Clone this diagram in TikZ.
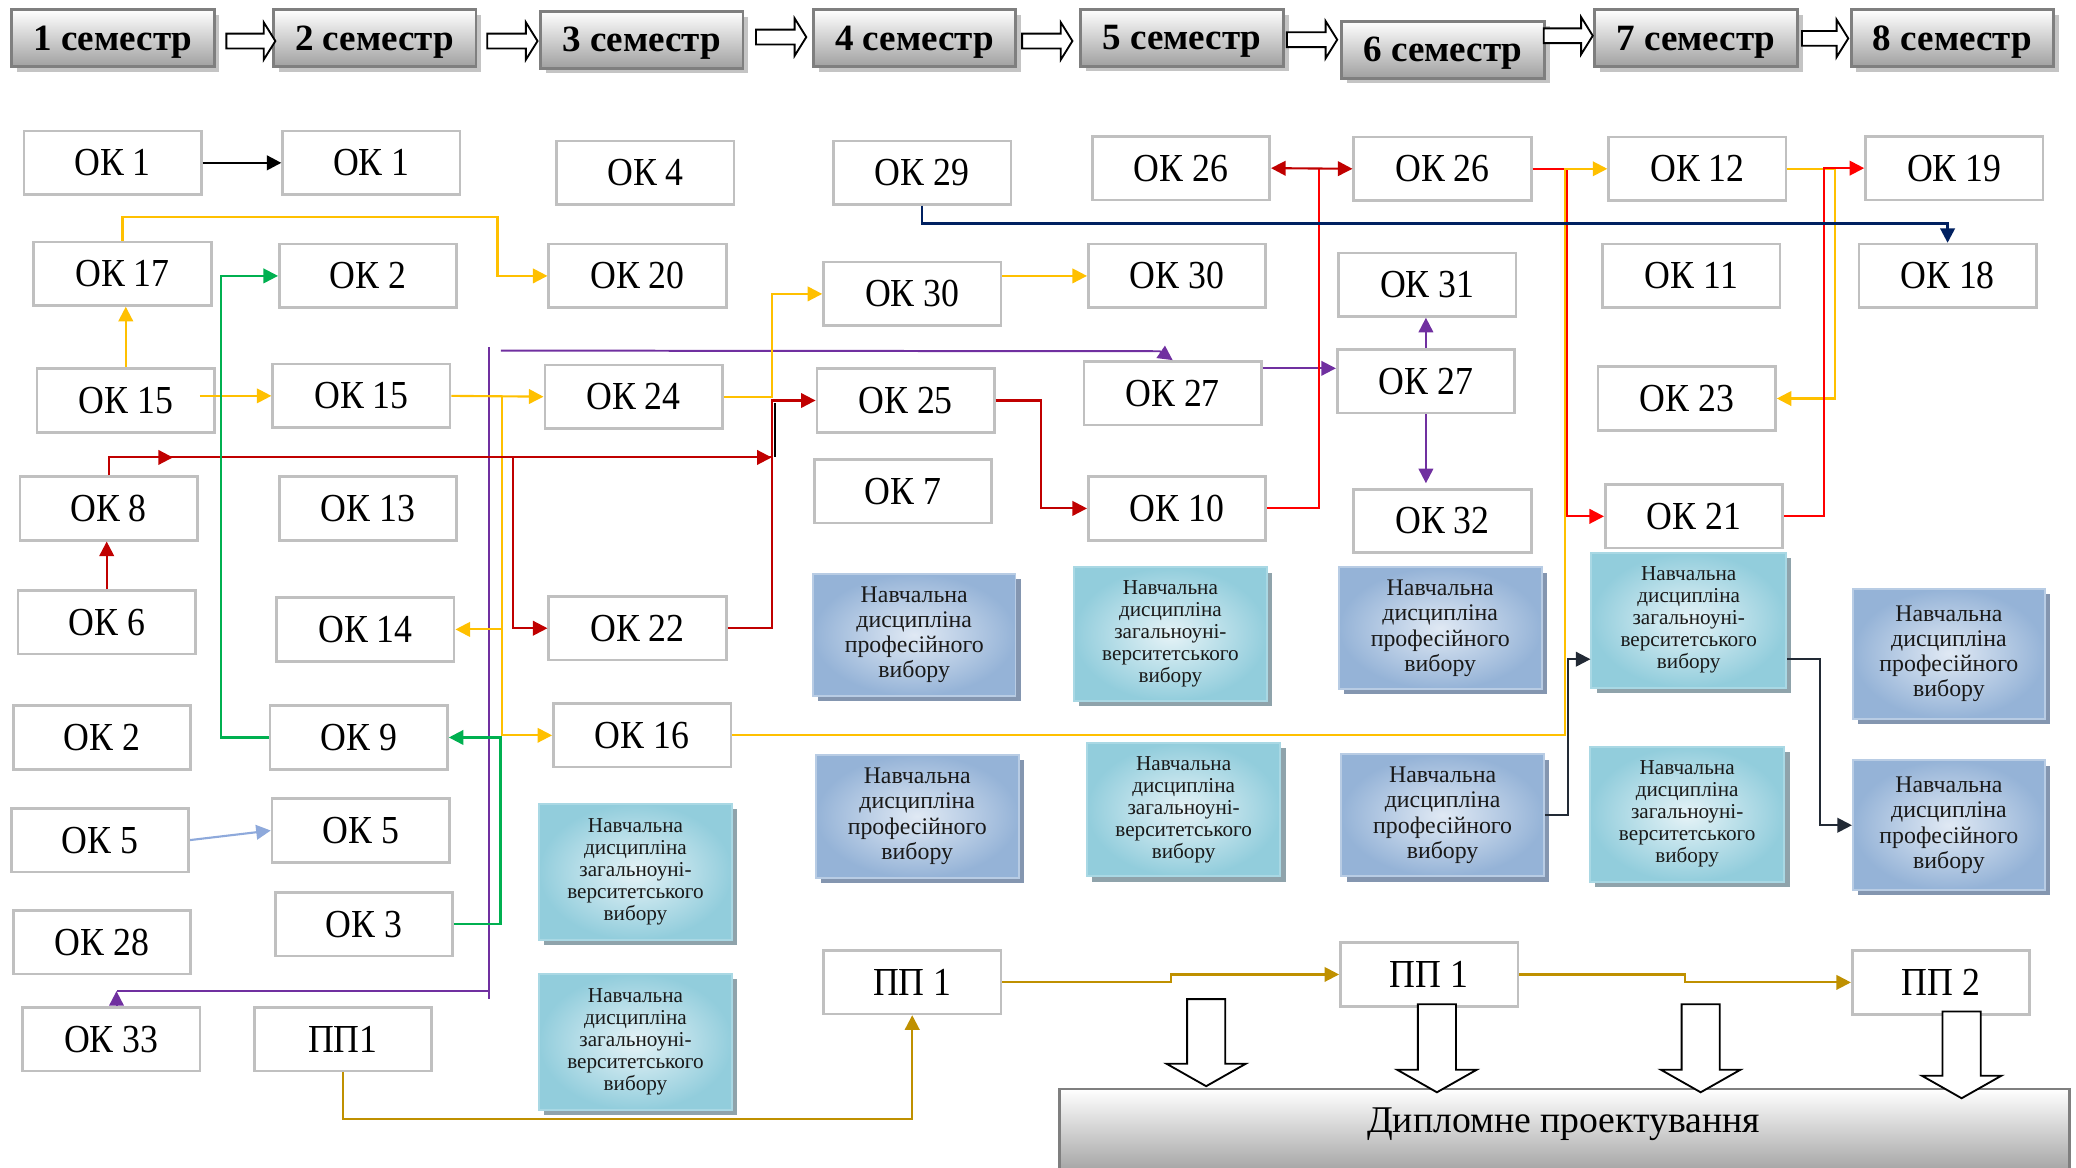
\documentclass[tikz,border=0pt]{standalone}
\usepackage{fontspec}
\setmainfont{Liberation Serif}
\newfontfamily\okfont{Liberation Serif}[FakeStretch=0.9]
\usetikzlibrary{arrows.meta,calc}
\definecolor{okgray}{HTML}{C0C0C0}
\definecolor{semborder}{HTML}{7F7F7F}
\definecolor{semgray}{HTML}{A0A0A0}
\definecolor{semboxsh}{HTML}{C4C4C4}
\definecolor{tealD}{HTML}{92CDDC}
\definecolor{tealL}{HTML}{E6F3F7}
\definecolor{tealedge}{HTML}{A9D8E4}
\definecolor{tealboxsh}{HTML}{8FA3AB}
\definecolor{blueD}{HTML}{95B3D7}
\definecolor{blueL}{HTML}{E0E9F4}
\definecolor{blueedge}{HTML}{B8CCE4}
\definecolor{blueboxsh}{HTML}{8496B0}
\definecolor{cyel}{HTML}{FFC000}
\definecolor{cdred}{HTML}{C00000}
\definecolor{cred}{HTML}{FF0000}
\definecolor{cnavy}{HTML}{002060}
\definecolor{cpur}{HTML}{7030A0}
\definecolor{cgrn}{HTML}{00B050}
\definecolor{clb}{HTML}{8EA9DB}
\definecolor{cgold}{HTML}{BF9000}
\definecolor{cdark}{HTML}{222A35}
\newcommand{\tealtxt}{Навчальна\\дисципліна\\загальноуні-\\верситетського\\вибору}
\newcommand{\bluetxt}{Навчальна\\дисципліна\\професійного\\вибору}
\newcommand{\gbox}[7]{%
  \fill[#1sh] ({#3-#5/2+4},{#4-#6/2+4}) rectangle ({#3+#5/2+4},{#4+#6/2+4});
  \node[#1, minimum width=#5pt, minimum height=#6pt] (#2) at (#3,#4) {#7};}
\newcommand{\harr}[3]{\draw[hollow] ({#1},{#3-5.6}) -- ({#2-8.8},{#3-5.6}) -- ({#2-8.8},{#3-14.1}) -- ({#2},{#3}) -- ({#2-8.8},{#3+14.1}) -- ({#2-8.8},{#3+5.6}) -- ({#1},{#3+5.6}) -- cycle;}
\newcommand{\darr}[3]{\draw[hollow] ({#1-14.4},{#2}) -- ({#1+14.4},{#2}) -- ({#1+14.4},{#3-17}) -- ({#1+30},{#3-17}) -- ({#1},{#3}) -- ({#1-30},{#3-17}) -- ({#1-14.4},{#3-17}) -- cycle;}
\tikzset{
  okbox/.style={draw=okgray, line width=2pt, fill=white, minimum width=134pt, minimum height=48pt, inner sep=0pt, font=\okfont\fontsize{30}{32}\selectfont},
  sembox/.style={draw=semborder, line width=2.2pt, top color=white, bottom color=semgray, inner sep=0pt, text depth=0pt, font=\bfseries\fontsize{28}{30}\selectfont},
  semboxsh/.style={fill=semboxsh},
  tealbox/.style={draw=tealedge, line width=1.5pt, inner color=tealL, outer color=tealD, align=center, inner sep=0pt, text=black!90, font=\fontsize{16}{16.6}\selectfont},
  tealboxsh/.style={fill=tealboxsh},
  bluebox/.style={draw=blueedge, line width=1.5pt, inner color=blueL, outer color=blueD, align=center, inner sep=0pt, text=black!90, font=\fontsize{18}{19}\selectfont},
  blueboxsh/.style={fill=blueboxsh},
  dipbox/.style={draw=semborder, line width=2pt, top color=white, bottom color=black!40},
  con/.style={line width=1.6pt, -{Triangle[length=11pt,width=11pt]}},
  ln/.style={line width=1.6pt},
  hollow/.style={draw=black, line width=1.4pt, fill=white, line join=miter},
}
\begin{document}
\begin{tikzpicture}[x=1pt,y=-1pt]
\useasboundingbox (0,0) rectangle (1568,882);

% semesters
\gbox{sembox}{s1}{85.2}{29}{153}{43}{1 семестр}
\gbox{sembox}{s2}{283}{29}{153}{43}{2 семестр}
\gbox{sembox}{s3}{484.7}{30}{153}{43}{3 семестр}
\gbox{sembox}{s4}{690.8}{29}{153}{43}{4 семестр}
\gbox{sembox}{s5}{892.8}{28.5}{153}{43}{5 семестр}
\gbox{sembox}{s6}{1089.9}{37.5}{153}{43}{6 семестр}
\gbox{sembox}{s7}{1281}{29}{153}{43}{7 семестр}
\gbox{sembox}{s8}{1474.6}{29}{153}{43}{8 семестр}
\harr{171}{208}{31}
\harr{368}{406}{31}
\harr{571}{609}{28}
\harr{772}{810}{31}
\harr{972}{1010}{30}
\harr{1166}{1203}{27}
\harr{1361}{1396}{29}

% column 1
\node[okbox] (a1) at (85,123) {ОК 1};
\node[okbox] (a17) at (92.5,206.7) {ОК 17};
\node[okbox] (a15) at (95,302.5) {ОК 15};
\node[okbox] (a8) at (82,384) {ОК 8};
\node[okbox] (a6) at (80.6,470) {ОК 6};
\node[okbox] (a2) at (77,557) {ОК 2};
\node[okbox] (a5) at (75.6,634.5) {ОК 5};
\node[okbox] (a28) at (77,711.7) {ОК 28};
\node[okbox] (a33) at (84,785) {ОК 33};
% column 2
\node[okbox] (b1) at (280.5,123) {ОК 1};
\node[okbox] (b2) at (278,208.4) {ОК 2};
\node[okbox] (b15) at (273,299) {ОК 15};
\node[okbox] (b13) at (278,384) {ОК 13};
\node[okbox] (b14) at (276,475.4) {ОК 14};
\node[okbox] (b9) at (271,557) {ОК 9};
\node[okbox] (b5) at (272.5,627.3) {ОК 5};
\node[okbox] (b3) at (275,698) {ОК 3};
\node[okbox] (bpp) at (259,785) {ПП1};
% column 3
\node[okbox] (c4) at (487.5,130.4) {ОК 4};
\node[okbox] (c20) at (481.5,208.4) {ОК 20};
\node[okbox] (c24) at (478.5,299.6) {ОК 24};
\node[okbox] (c22) at (481.5,474.5) {ОК 22};
\node[okbox] (c16) at (485,555.4) {ОК 16};
\gbox{tealbox}{cu1}{480}{658.5}{146}{103}{\tealtxt}
\gbox{tealbox}{cu2}{480}{787}{146}{103}{\tealtxt}
% column 4
\node[okbox] (d29) at (696.5,130.4) {ОК 29};
\node[okbox] (d30) at (689,222) {ОК 30};
\node[okbox] (d25) at (684,302.5) {ОК 25};
\node[okbox] (d7) at (682,371) {ОК 7};
\gbox{bluebox}{dp1}{690.5}{479.5}{153}{92}{\bluetxt}
\gbox{bluebox}{dp2}{692.8}{616.5}{153}{93}{\bluetxt}
\node[okbox] (dpp) at (689,741.8) {ПП 1};
% column 5
\node[okbox] (e26) at (892,127) {ОК 26};
\node[okbox] (e30) at (889,208.4) {ОК 30};
\node[okbox] (e27) at (885.7,297) {ОК 27};
\node[okbox] (e10) at (889,384) {ОК 10};
\gbox{tealbox}{eu1}{884}{479}{146}{101}{\tealtxt}
\gbox{tealbox}{eu2}{894}{611.5}{146}{101}{\tealtxt}
% column 6
\node[okbox] (f26) at (1089.5,127.5) {ОК 26};
\node[okbox] (f31) at (1078,215) {ОК 31};
\node[okbox] (f27) at (1077,288) {ОК 27};
\node[okbox] (f32) at (1089.5,393.5) {ОК 32};
\gbox{bluebox}{fp1}{1087.8}{474.5}{153}{92}{\bluetxt}
\gbox{bluebox}{fp2}{1089.6}{615.8}{153}{92}{\bluetxt}
\node[okbox] (fpp) at (1079.4,736) {ПП 1};
% column 7
\node[okbox] (g12) at (1282,127.5) {ОК 12};
\node[okbox] (g11) at (1277.5,208.4) {ОК 11};
\node[okbox] (g23) at (1274,301) {ОК 23};
\node[okbox] (g21) at (1279.5,390) {ОК 21};
\gbox{tealbox}{gu1}{1275.5}{468.5}{147}{102}{\tealtxt}
\gbox{tealbox}{gu2}{1274.3}{615}{147}{102}{\tealtxt}
% column 8
\node[okbox] (h19) at (1476,127) {ОК 19};
\node[okbox] (h18) at (1471,208.4) {ОК 18};
\gbox{bluebox}{hp1}{1472}{493.7}{145}{98}{\bluetxt}
\gbox{bluebox}{hp2}{1472}{623.3}{145}{98}{\bluetxt}
\node[okbox] (hpp) at (1466,742) {ПП 2};

% diploma
\node[dipbox, minimum width=763pt, minimum height=70pt] (dip) at (1181.5,857.5) {};
\node[font=\fontsize{28.5}{30}\selectfont, inner sep=0pt] (diplabel) at (1181,849) {Дипломне проектування};
\darr{911}{754.6}{820.4}
\darr{1085.3}{758.5}{825}
\darr{1284.5}{758.5}{825}
\darr{1481.6}{764}{829.5}

% connectors
\draw[con, line width=2pt, black] (a1.east) -- (b1.west);
% purple
\coordinate (ptop) at (369.7,262.3);
\coordinate (pbot) at (369.7,754.6);
\coordinate (ph) at (378.3,264.8);
\coordinate (pq) at (88,748.6);
\draw[line width=1.5pt,cpur] (ptop) -- (pbot);
\draw[con,cpur,line width=1.5pt] (ph) -- (876,265.3) -- (e27.north);
\draw[ln,cpur,line width=1.5pt] (pbot |- pq) -- (pq);
\draw[con,cpur,line width=1.5pt] (pq |- a33.north) -- (pq);
\draw[con,cpur,line width=1.5pt] ($(e27.east)+(0,-18.8)$) -- ($(e27.east -| f27.west)+(0,-18.8)$);
\draw[con,cpur,line width=1.5pt] (f27.north) -- (f27.north |- f31.south);
\draw[con,cpur,line width=1.5pt] (f27.south) -- ($(f27.south |- f32.north)+(0,-3.5)$);
% yellow
\draw[con,cyel] (a15.north) -- (a15.north |- a17.south);
\draw[con,cyel] (a17.north) |- (375.8,164.1) |- (c20.west);
\draw[con,cyel] ($(a15.east |- b15.west)+(-12,0)$) -- (b15.west);
\draw[con,cyel] (b15.east) -- (c24.west);
\coordinate (yv) at (379.3,299);
\draw[con,cyel] (yv) |- (c16.west);
\draw[con,cyel] (yv |- b14.east) -- (b14.east);
\draw[con,cyel] (c24.east) -- ++(36.7,0) |- (d30.west);
\draw[con,cyel] (d30.east |- e30.west) -- (e30.west);
% red
\draw[con,cdred] (a6.north) -- (a6.north |- a8.south);
\coordinate (rj) at (582.8,345.5);
\coordinate (rv) at (387.3,345.5);
\draw[ln,cdred] (a8.north) |- (rj);
\draw[con,cdred] (a8.north |- rj) -- ++(48.6,0);
\draw[con,cdred] (a8.north |- rj) -- (rj);
\draw[con,cdred] (rv) |- (c22.west);
\draw[con,cdred] (c22.east) -| (582.8,302.5) -- (d25.west);
\draw[line width=1.5pt,black] (585.6,304.5) -- (585.6,345);
\draw[con,cdred] (d25.east) -- ++(34.5,0) |- (e10.west);
\draw[ln,cred] (e10.east) -| (996.4,127.1);
\draw[ln,cdred,{Triangle[length=11pt,width=11pt]}-{Triangle[length=11pt,width=11pt]}] (e26.east) -- (f26.west);
\draw[con,cred] (f26.east) -- ++(26,0) |- (g21.west);
\draw[con,cyel] (c16.east) -- ++(628.8,0) |- (g12.west);
\draw[con,cyel] (g12.east) -- ++(36.2,0) |- (g23.east);
\draw[con,cred] (g21.east) -- ++(30.1,0) |- (h19.west);
% navy
\draw[con,cnavy,line width=2pt] (d29.south) -- ++(0,13.6) -| (h18.north);
% green
\draw[con,cgrn] (b3.east) -- ++(35,0) |- (b9.east);
\draw[con,cgrn] (b9.west) -- ++(-36.2,0) |- (b2.west);
% light blue
\draw[con,clb] (a5.east) -- (b5.west);
% gold
\draw[con,cgold] (bpp.south) -- ++(0,35.5) -| (dpp.south);
\draw[con,cgold] (dpp.east) -- ++(127.7,0) |- (fpp.west);
\draw[con,cgold] (fpp.east) -- ++(125.3,0) |- (hpp.west);
% dark
\draw[con,cdark] (fp2.east) -- ++(17.3,0) |- ($(gu1.west)+(0,29.4)$);
\draw[con,cdark] ($(gu1.east)+(0,29.4)$) -- ++(24.7,0) |- (hp2.west);
\end{tikzpicture}
\end{document}
